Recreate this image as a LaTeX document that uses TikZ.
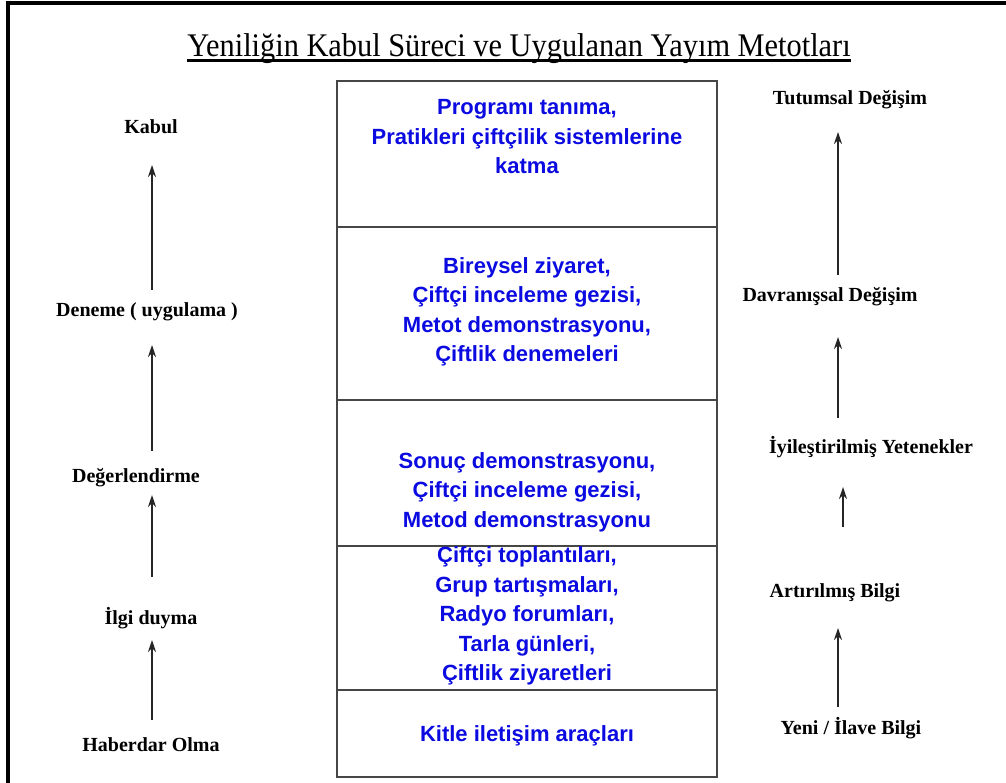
\documentclass[tikz,border=0pt]{standalone}
\usepackage{fontspec}
\setmainfont{Liberation Serif}
\newfontfamily\methodfont{Liberation Sans}
\newfontfamily\titlefont[FakeStretch=0.92]{Liberation Serif}
\usetikzlibrary{positioning,calc,arrows.meta}
\definecolor{methodblue}{RGB}{10,10,225}
\definecolor{tablegray}{RGB}{70,70,70}

\begin{document}
\begin{tikzpicture}[>={Stealth[length=12pt,width=8pt]}, x=1pt, y=-1pt]
        \tikzstyle{stage}=[font=\bfseries\fontsize{20}{24}\selectfont, inner sep=0pt]
        \tikzstyle{method}=[text=methodblue, align=center, inner sep=0pt, font=\methodfont\bfseries\fontsize{22}{29.5}\selectfont]
        \tikzstyle{up}=[->, line width=1.5pt, black!85]
        \tikzstyle{rule}=[tablegray, line width=2pt]
        \useasboundingbox (0,0) rectangle (1006,783);

        % Outer frame (open at right and bottom)
        \draw[line width=4pt] (8,783) -- (8,3) -- (1006,3);

        % Title
        \node[anchor=base, inner sep=0pt, font=\titlefont\fontsize{33}{36}\selectfont] (title) at (519,57) {Yeniliğin Kabul Süreci ve Uygulanan Yayım Metotları};
        \draw[line width=3pt] ([yshift=-4pt]title.base west) -- ([yshift=-4pt]title.base east);

        % Methods table
        \draw[rule] (337,81) rectangle (717,777);
        \foreach \y in {227,400,546,690}
            \draw[rule] (337,\y) -- (717,\y);

        \node[method] (prog) at (527,137) {Programı tanıma,\\Pratikleri çiftçilik sistemlerine\\katma};
        \node[method] (birey) at (527,312) {Bireysel ziyaret,\\Çiftçi inceleme gezisi,\\Metot demonstrasyonu,\\Çiftlik denemeleri};
        \node[method] (sonuc) at (527,492) {Sonuç demonstrasyonu,\\Çiftçi inceleme gezisi,\\Metod demonstrasyonu};
        \node[method] (toplanti) at (527,616) {Çiftçi toplantıları,\\Grup tartışmaları,\\Radyo forumları,\\Tarla günleri,\\Çiftlik ziyaretleri};
        \node[method] (kitle) at (527,736) {Kitle iletişim araçları};

        % Left column: stages of adoption
        \coordinate (lx) at (152,0);
        \node[stage] (kabul) at (151,127) {Kabul};
        \node[stage] (deneme) at (147,312) {Deneme ( uygulama )};
        \node[stage] (deger) at (136,478) {Değerlendirme};
        \node[stage] (ilgi) at (151,618) {İlgi duyma};
        \node[stage] (haber) at (151,745) {Haberdar Olma};

        \draw[up, shorten <=22pt, shorten >=38pt] (deneme.center -| lx) -- (kabul.center -| lx);
        \draw[up, shorten <=27pt, shorten >=33pt] (deger.center -| lx) -- (deneme.center -| lx);
        \draw[up, shorten <=41pt, shorten >=17pt] (ilgi.center -| lx) -- (deger.center -| lx);
        \draw[up, shorten <=25pt, shorten >=22pt] (haber.center -| lx) -- (ilgi.center -| lx);

        % Right column: changes
        \coordinate (rx) at (838,0);
        \coordinate (rxs) at (843,0);
        \node[stage] (tutum) at (850,100) {Tutumsal Değişim};
        \node[stage] (davran) at (830,297) {Davranışsal Değişim};
        \node[stage] (iyi) at (871,447) {İyileştirilmiş Yetenekler};
        \node[stage] (artan) at (835,593) {Artırılmış Bilgi};
        \node[stage] (yeni) at (851,728) {Yeni / İlave Bilgi};

        \draw[up, shorten <=22pt, shorten >=32pt] (davran.center -| rx) -- (tutum.center -| rx);
        \draw[up, shorten <=29pt, shorten >=40pt] (iyi.center -| rx) -- (davran.center -| rx);
        \draw[up, shorten <=66pt, shorten >=40pt] (artan.center -| rxs) -- (iyi.center -| rxs);
        \draw[up, shorten <=21pt, shorten >=35pt] (yeni.center -| rx) -- (artan.center -| rx);
\end{tikzpicture}
\end{document}
